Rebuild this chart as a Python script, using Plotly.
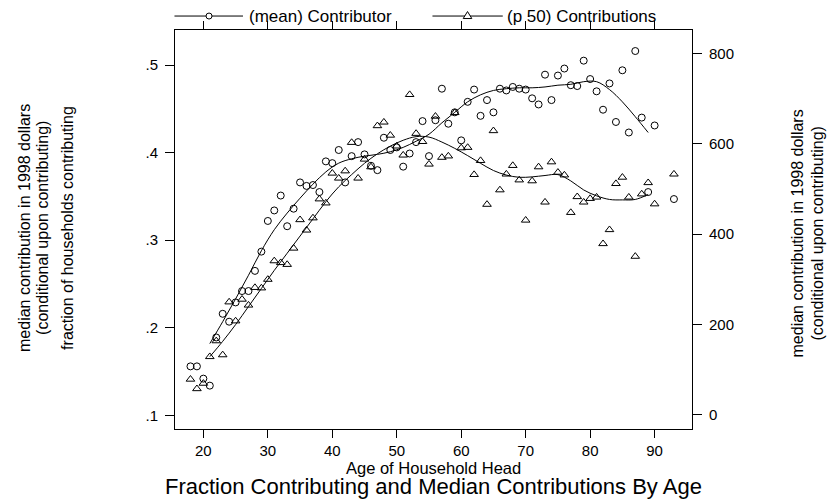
import plotly.graph_objects as go

# ---------------- data ----------------
ages = [18, 19, 20, 21, 22, 23, 24, 25, 26, 27, 28, 29, 30, 31, 32, 33, 34, 35, 36, 37,
        38, 39, 40, 41, 42, 43, 44, 45, 46, 47, 48, 49, 50, 51, 52, 53, 54, 55, 56, 57,
        58, 59, 60, 61, 62, 63, 64, 65, 66, 67, 68, 69, 70, 71, 72, 73, 74, 75, 76, 77,
        78, 79, 80, 81, 82, 83, 84, 85, 86, 87, 88, 89, 90, 93]

frac_contrib = [0.156, 0.156, 0.142, 0.134, 0.189, 0.216, 0.207, 0.229, 0.242, 0.242,
                0.265, 0.287, 0.322, 0.334, 0.351, 0.316, 0.336, 0.366, 0.362, 0.363,
                0.355, 0.390, 0.388, 0.403, 0.366, 0.396, 0.412, 0.398, 0.385, 0.380,
                0.417, 0.403, 0.406, 0.384, 0.399, 0.412, 0.436, 0.396, 0.437, 0.473,
                0.433, 0.446, 0.414, 0.458, 0.472, 0.442, 0.460, 0.446, 0.473, 0.471,
                0.475, 0.473, 0.472, 0.462, 0.455, 0.489, 0.460, 0.488, 0.496, 0.477,
                0.476, 0.505, 0.484, 0.470, 0.449, 0.479, 0.435, 0.494, 0.423, 0.516,
                0.440, 0.355, 0.431, 0.347]

median_contrib = [79, 58, 70, 129, 164, 133, 250, 208, 256, 243,
                  282, 281, 300, 341, 337, 333, 369, 432, 409, 436,
                  478, 469, 535, 524, 540, 603, 524, 566, 549, 640,
                  648, 619, 595, 575, 709, 623, 605, 555, 661, 570,
                  573, 669, 591, 592, 532, 563, 466, 629, 498, 533,
                  552, 520, 431, 518, 549, 471, 560, 537, 531, 448,
                  483, 471, 479, 482, 379, 410, 512, 526, 482, 351,
                  489, 514, 467, 533]

smooth_age = [21, 23, 25, 27, 29, 31, 33, 35, 37, 39, 41, 43, 45, 47, 49, 51, 53, 55,
              57, 59, 61, 63, 65, 67, 69, 71, 73, 75, 77, 79, 81, 83, 85, 87, 89]
smooth_frac = [0.182, 0.207, 0.233, 0.260, 0.288, 0.312, 0.331, 0.348, 0.364, 0.378,
               0.388, 0.393, 0.396, 0.398, 0.401, 0.406, 0.413, 0.421, 0.434, 0.446,
               0.458, 0.466, 0.471, 0.473, 0.474, 0.474, 0.475, 0.477, 0.478, 0.481,
               0.481, 0.472, 0.458, 0.441, 0.423]
smooth_contrib = [129, 163, 200, 240, 280, 320, 358, 396, 434, 472,
                  505, 532, 557, 578, 595, 608, 616, 615, 604, 590,
                  574, 557, 541, 531, 526, 527, 530, 532, 518, 498,
                  485, 477, 476, 477, 488]

x_ticks = [20, 30, 40, 50, 60, 70, 80, 90]
left_ticks = [0.1, 0.2, 0.3, 0.4, 0.5]
left_ticktext = ['.1', '.2', '.3', '.4', '.5']
right_ticks = [0, 200, 400, 600, 800]

FONT = 'Liberation Sans, Arial, sans-serif'
BLACK = '#000000'

fig = go.Figure()

fig.add_trace(go.Scatter(x=ages, y=frac_contrib, mode='markers', name='(mean) Contributor',
                         marker=dict(symbol='circle-open', size=7, color=BLACK, line=dict(width=1)),
                         showlegend=False))
fig.add_trace(go.Scatter(x=ages, y=median_contrib, mode='markers', name='(p 50) Contributions',
                         yaxis='y2',
                         marker=dict(symbol='triangle-up-open', size=7.5, color=BLACK, line=dict(width=1)),
                         showlegend=False))
fig.add_trace(go.Scatter(x=smooth_age, y=smooth_frac, mode='lines', line=dict(color=BLACK, width=1, shape='spline'),
                         showlegend=False, hoverinfo='skip'))
fig.add_trace(go.Scatter(x=smooth_age, y=smooth_contrib, mode='lines', yaxis='y2',
                         line=dict(color=BLACK, width=1, shape='spline'),
                         showlegend=False, hoverinfo='skip'))

# ------------- manual legend (decoration) -------------
LEG_Y = 1.035
shapes = [
    dict(type='line', xref='paper', yref='paper', x0=-0.001, x1=0.1315, y0=LEG_Y, y1=LEG_Y,
         line=dict(color=BLACK, width=1)),
    dict(type='line', xref='paper', yref='paper', x0=0.498, x1=0.634, y0=LEG_Y, y1=LEG_Y,
         line=dict(color=BLACK, width=1)),
    dict(type='circle', xref='paper', yref='paper', xsizemode='pixel', ysizemode='pixel',
         xanchor=0.0658, yanchor=LEG_Y, x0=-3, x1=3, y0=-3, y1=3,
         line=dict(color=BLACK, width=1), fillcolor='white'),
    dict(type='path', xref='paper', yref='paper', xsizemode='pixel', ysizemode='pixel',
         xanchor=0.5658, yanchor=LEG_Y, path='M -4.3,-2.5 L 4.3,-2.5 L 0,4.5 Z',
         line=dict(color=BLACK, width=1), fillcolor='white'),
]

LEG_FONT = dict(family=FONT, size=17, color=BLACK)
TXT_FONT = dict(family=FONT, size=16, color=BLACK)
annotations = [
    dict(text='(mean) Contributor', xref='paper', yref='paper', x=0.139, y=LEG_Y,
         xanchor='left', yanchor='middle', showarrow=False, font=LEG_FONT),
    dict(text='(p 50) Contributions', xref='paper', yref='paper', x=0.639, y=LEG_Y,
         xanchor='left', yanchor='middle', showarrow=False, font=LEG_FONT),
    # left axis titles
    dict(text='median contribution in 1998 dollars', xref='paper', yref='paper', x=-0.290, y=0.504,
         textangle=-90, xanchor='center', yanchor='middle', showarrow=False, font=TXT_FONT),
    dict(text='(conditional upon contributing)', xref='paper', yref='paper', x=-0.2553, y=0.504,
         textangle=-90, xanchor='center', yanchor='middle', showarrow=False, font=TXT_FONT),
    dict(text='fraction of households contributing', xref='paper', yref='paper', x=-0.207, y=0.504,
         textangle=-90, xanchor='center', yanchor='middle', showarrow=False, font=TXT_FONT),
    # right axis titles
    dict(text='median contribution in 1998 dollars', xref='paper', yref='paper', x=1.205, y=0.49,
         textangle=-90, xanchor='center', yanchor='middle', showarrow=False, font=TXT_FONT),
    dict(text='(conditional upon contributing)', xref='paper', yref='paper', x=1.2418, y=0.49,
         textangle=-90, xanchor='center', yanchor='middle', showarrow=False, font=TXT_FONT),
    # x title and chart title
    dict(text='Age of Household Head', xref='paper', yref='paper', x=0.5, y=-0.097,
         xanchor='center', yanchor='middle', showarrow=False, font=dict(family=FONT, size=16.5, color=BLACK)),
    dict(text='Fraction Contributing and Median Contributions By Age', xref='paper', yref='paper',
         x=0.5, y=-0.145, xanchor='center', yanchor='middle', showarrow=False,
         font=dict(family=FONT, size=22, color=BLACK)),
]

fig.update_layout(
    width=832, height=499,
    margin=dict(l=175, r=140, t=30, b=70),
    paper_bgcolor='white', plot_bgcolor='white',
    font=dict(family=FONT, size=15, color=BLACK),
    showlegend=False,
    shapes=shapes,
    annotations=annotations,
    xaxis=dict(range=[15.6, 95.8], tickvals=x_ticks, ticks='outside', ticklen=8, tickwidth=1,
               tickcolor=BLACK, showline=True, linecolor=BLACK, linewidth=1, mirror='ticks',
               showgrid=False, zeroline=False, tickfont=dict(size=15), ticklabelstandoff=0),
    yaxis=dict(range=[0.0845, 0.540], tickvals=left_ticks, ticktext=left_ticktext, ticks='outside',
               ticklen=9, tickwidth=1, tickcolor=BLACK, showline=True, linecolor=BLACK, linewidth=1,
               showgrid=False, zeroline=False, tickfont=dict(size=15), ticklabelstandoff=4),
    yaxis2=dict(range=[-31, 852], tickvals=right_ticks, overlaying='y', side='right', ticks='outside',
                ticklen=9, tickwidth=1, tickcolor=BLACK, showline=True, linecolor=BLACK, linewidth=1,
                showgrid=False, zeroline=False, tickfont=dict(size=15), ticklabelstandoff=4),
)

fig.write_html('out.html', config={'displayModeBar': False},
               post_script="document.body.style.margin='0';document.body.style.overflow='hidden';")
